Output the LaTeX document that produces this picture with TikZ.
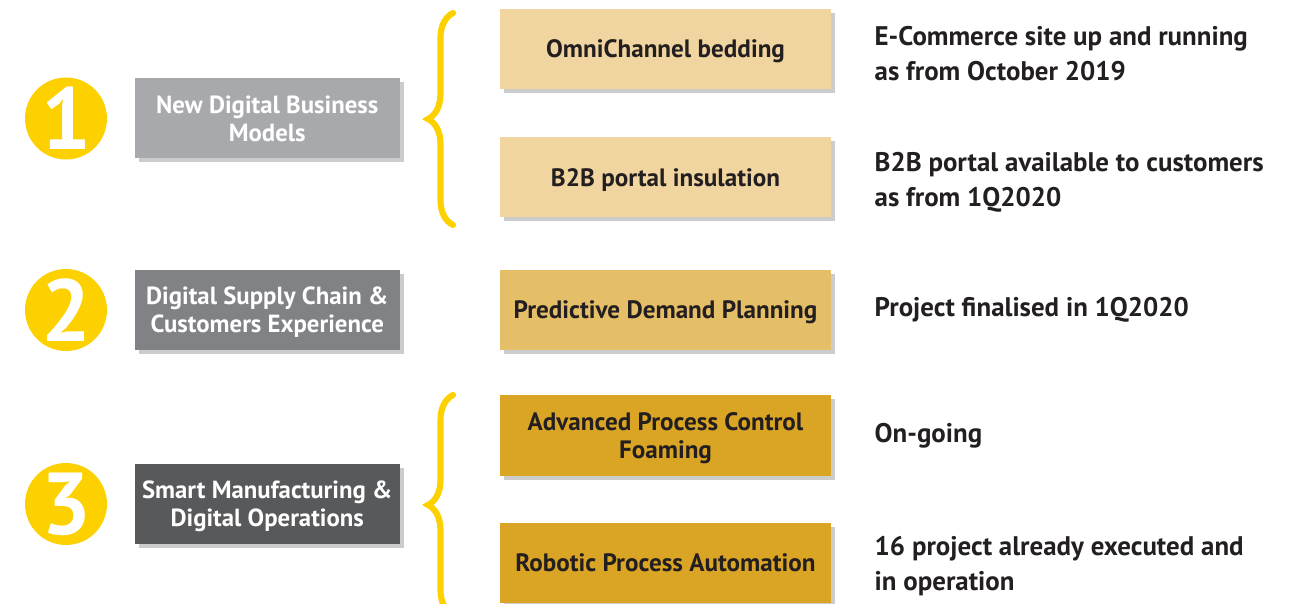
\documentclass[tikz,border=0pt]{standalone}
\usepackage{fontspec}
\setmainfont{PT Sans}
\usepackage{tikz}
\usetikzlibrary{positioning}
\usetikzlibrary{shadows, decorations.pathreplacing}

\definecolor{numyellow}{HTML}{FDD100}
\definecolor{areagrayA}{HTML}{A7A9AC}
\definecolor{areagrayB}{HTML}{808285}
\definecolor{areagrayC}{HTML}{58595B}
\definecolor{projtanA}{HTML}{F1D5A0}
\definecolor{projtanB}{HTML}{E5BE68}
\definecolor{projtanC}{HTML}{DAA524}
\definecolor{ink}{HTML}{231F20}

\begin{document}
\begin{tikzpicture}[
  num/.style={circle,fill=numyellow,text=white,minimum size=1.64cm,inner sep=0,font=\fontsize{50}{50}\selectfont\bfseries},
  area/.style={rectangle,minimum width=5.3cm,minimum height=1.6cm,inner sep=0,text=white,align=center,text depth=0pt,
    font=\fontsize{14.1}{16}\selectfont\bfseries,drop shadow={shadow xshift=0.08cm,shadow yshift=-0.08cm,fill=black!40,opacity=0.5}},
  proj/.style={rectangle,minimum width=6.62cm,minimum height=1.6cm,inner sep=0,text=ink,align=center,text depth=0pt,
    font=\fontsize{14.3}{16}\selectfont\bfseries,drop shadow={shadow xshift=0.08cm,shadow yshift=-0.08cm,fill=black!40,opacity=0.5}},
  status/.style={inner sep=0,anchor=west,align=left,text=ink,font=\fontsize{15.3}{20}\selectfont\bfseries},
  curly/.style={draw=numyellow,line width=3.5pt,line cap=round,decorate,decoration={brace,amplitude=0.5cm}}
]
\useasboundingbox (0,0) rectangle (25.8,12.06);

% numbers
\node[num] (c1) at (1.32,9.69) {1};
\node[num] (c2) at (1.32,5.86) {2};
\node[num] (c3) at (1.32,1.98) {3};

% areas
\node[area,fill=areagrayA,right=0.54cm of c1] (a1) {New Digital Business\\Models};
\node[area,fill=areagrayB,right=0.54cm of c2] (a2) {Digital Supply Chain \&\\Customers Experience};
\node[area,fill=areagrayC,right=0.54cm of c3] (a3) {Smart Manufacturing \&\\Digital Operations};

% braces
\draw[curly] (9.06,7.56) -- (9.06,11.80);
\draw[curly] (9.06,-0.24) -- (9.06,4.16);

% projects
\node[proj,fill=projtanA] (p1) at (13.31,11.08) {OmniChannel bedding};
\node[proj,fill=projtanA] (p2) at (13.31,8.51) {B2B portal insulation};
\node[proj,fill=projtanB] (p3) at (13.31,5.86) {Predictive Demand Planning};
\node[proj,fill=projtanC] (p4) at (13.31,3.35) {Advanced Process Control\\Foaming};
\node[proj,fill=projtanC] (p5) at (13.31,0.80) {Robotic Process Automation};

% status
\node[status,right=0.86cm of p1,yshift=-0.09cm] (s1) {E-Commerce site up and running\\as from October 2019};
\node[status,right=0.86cm of p2,yshift=-0.09cm] (s2) {B2B portal available to customers\\as from 1Q2020};
\node[status,right=0.86cm of p3] (s3) {Project finalised in 1Q2020};
\node[status,right=0.86cm of p4] (s4) {On-going};
\node[status,right=0.86cm of p5,yshift=-0.06cm] (s5) {16 project already executed and\\in operation};

\end{tikzpicture}
\end{document}
